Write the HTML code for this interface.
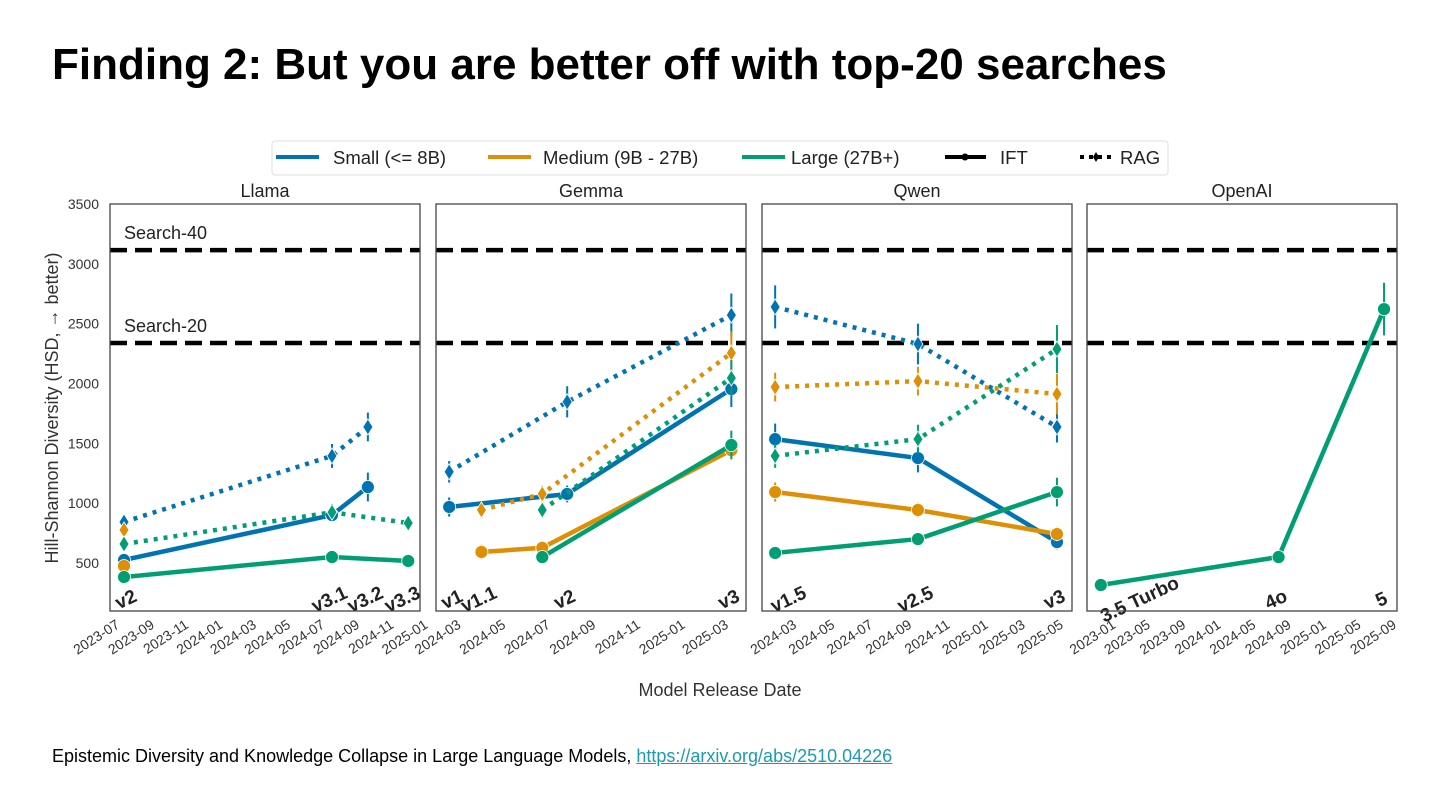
<!DOCTYPE html>
<html><head><meta charset="utf-8">
<style>
html,body{margin:0;padding:0;background:#fff;}
body{width:1440px;height:810px;overflow:hidden;position:relative;font-family:"Liberation Sans",sans-serif;}
#title{position:absolute;left:52px;top:40px;font-size:44px;font-weight:bold;color:#000;margin:0;}
#footer{position:absolute;left:52px;top:746px;font-size:18px;color:#000;}
#footer a{color:#1a9bb0;}
svg{position:absolute;left:0;top:0;}
</style></head><body>
<h1 id="title">Finding 2: But you are better off with top-20 searches</h1>
<div id="footer">Epistemic Diversity and Knowledge Collapse in Large Language Models, <a href="#">https://arxiv.org/abs/2510.04226</a></div>
<svg id="chart" width="1440" height="810"></svg>
<script>
const panelNames=["Llama","Gemma","Qwen","OpenAI"];
const panelStart=["2023-06-23","2024-02-03","2024-01-14","2022-10-11"];
const panelEnd=["2024-12-27","2025-04-01","2025-05-23","2025-09-21"];
const panelTickStep=[2,2,2,4];
const yTicks=[500,1000,1500,2000,2500,3000,3500];
const searchLabels=["Search-40","Search-20"];
const searchValues=[3115,2338];
const sizeNames=["Small (<= 8B)","Medium (9B - 27B)","Large (27B+)"];
const sizeColors=["#0173b2","#de8f05","#029e73"];
const seriesPanel=[0,0,0,0,0,0, 1,1,1,1,1,1, 2,2,2,2,2,2, 3];
const seriesSize=[0,0,1,1,2,2, 0,0,1,1,2,2, 0,0,1,1,2,2, 2];
const seriesType=["IFT","RAG","IFT","RAG","IFT","RAG","IFT","RAG","IFT","RAG","IFT","RAG","IFT","RAG","IFT","RAG","IFT","RAG","IFT"];
const seriesDates=[
 ["2023-07-18","2024-07-23","2024-09-25"],["2023-07-18","2024-07-23","2024-09-25"],
 ["2023-07-18"],["2023-07-18"],
 ["2023-07-18","2024-07-23","2024-12-06"],["2023-07-18","2024-07-23","2024-12-06"],
 ["2024-02-21","2024-07-31","2025-03-12"],["2024-02-21","2024-07-31","2025-03-12"],
 ["2024-04-05","2024-06-27","2025-03-12"],["2024-04-05","2024-06-27","2025-03-12"],
 ["2024-06-27","2025-03-12"],["2024-06-27","2025-03-12"],
 ["2024-02-04","2024-09-19","2025-04-29"],["2024-02-04","2024-09-19","2025-04-29"],
 ["2024-02-04","2024-09-19","2025-04-29"],["2024-02-04","2024-09-19","2025-04-29"],
 ["2024-02-04","2024-09-19","2025-04-29"],["2024-02-04","2024-09-19","2025-04-29"],
 ["2022-11-28","2024-08-06","2025-08-07"]];
const seriesValues=[
 [525,901,1135],[843,1395,1637],
 [475],[776],
 [383,550,517],[659,924,834],
 [968,1077,1954],[1262,1847,2572],
 [592,627,1443],[943,1077,2255],
 [550,1486],[943,2046],
 [1535,1377,675],[2640,2330,1637],
 [1093,943,742],[1970,2020,1912],
 [584,700,1093],[1395,1535,2288],
 [316,550,2622]];
const seriesErrors=[
 [50,40,120],[50,100,120],
 [40],[40],
 [30,40,40],[50,70,40],
 [80,70,150],[90,130,180],
 [60,50,60],[70,70,180],
 [40,120],[60,150],
 [130,120,60],[180,170,130],
 [80,60,60],[120,120,170],
 [30,40,120],[100,120,200],
 [30,30,220]];
const modelPanel=[0,0,0,0,1,1,1,1,2,2,2,3,3,3];
const modelLabels=["v2","v3.1","v3.2","v3.3","v1","v1.1","v2","v3","v1.5","v2.5","v3","3.5 Turbo","4o","5"];
const modelDates=["2023-07-18","2024-07-23","2024-09-25","2024-12-06","2024-02-21","2024-04-05","2024-07-31","2025-03-12","2024-02-04","2024-09-19","2025-04-29","2022-11-28","2024-08-06","2025-08-07"];

const svg=document.getElementById('chart');
const NS="http://www.w3.org/2000/svg";
const PL=[110,436,762,1087], PW=310, PT=204, PB=611;
function el(tag,attrs,parent){const e=document.createElementNS(NS,tag);for(const k in attrs)e.setAttribute(k,attrs[k]);(parent||svg).appendChild(e);return e;}
function t(s){return Date.parse(s+"T00:00:00Z");}
function xScale(p,d){const a=t(panelStart[p]),b=t(panelEnd[p]);return PL[p]+(t(d)-a)/(b-a)*PW;}
function yScale(v){return 563-(v-500)*(359/3000);}

const lg=el('g',{});


el('rect',{x:272,y:141,width:896,height:34,rx:3,fill:'#fff',stroke:'#ddd'},lg);
const legX=[276,488,742];
const legTX=[333,543,791];
for(let i=0;i<3;i++){
 const g=el('g',{},lg);
 
 
 el('line',{x1:legX[i],y1:157,x2:legX[i]+43,y2:157,stroke:sizeColors[i],'stroke-width':4},g);
 const tx=el('text',{x:legTX[i],y:164,'font-size':18.5,fill:'#222'},g);tx.textContent=sizeNames[i];
}
{const g=el('g',{},lg);
 
 
 el('line',{x1:945,y1:157,x2:986,y2:157,stroke:'#000','stroke-width':4},g);
 el('circle',{cx:965,cy:157,r:3.5,fill:'#000'},g);
 const tx=el('text',{x:1000,y:164,'font-size':18.5,fill:'#222'},g);tx.textContent="IFT";
 const g2=el('g',{},lg);
 
 
 el('line',{x1:1080,y1:157,x2:1112,y2:157,stroke:'#000','stroke-width':4,'stroke-dasharray':'4 5'},g2);
 el('path',{d:'M1096,152 L1099,157 L1096,162 L1093,157Z',fill:'#000'},g2);
 const tx2=el('text',{x:1120,y:164,'font-size':18.5,fill:'#222'},g2);tx2.textContent="RAG";}

const ya=el('g',{});


yTicks.forEach(v=>{const tx=el('text',{x:99,y:yScale(v)+5,'font-size':14,fill:'#333','text-anchor':'end'},ya);tx.textContent=v;});
const yt=el('text',{x:0,y:0,'font-size':18,fill:'#333','text-anchor':'middle',transform:'translate(58,408) rotate(-90)'});


yt.textContent="Hill-Shannon Diversity (HSD, \u2192 better)";
const xt=el('text',{x:720,y:696,'font-size':18,fill:'#333','text-anchor':'middle'});


xt.textContent="Model Release Date";

for(let p=0;p<4;p++){
 const g=el('g',{});
 
 
 const cp=el('clipPath',{id:'clip'+p},g);
 el('rect',{x:PL[p],y:PT,width:PW,height:PB-PT},cp);
 const ti=el('text',{x:PL[p]+PW/2,y:197,'font-size':18,fill:'#222','text-anchor':'middle'},g);
 
 
 ti.textContent=panelNames[p];
 const s=new Date(t(panelStart[p])), e=t(panelEnd[p]);
 let y=s.getUTCFullYear(), m=s.getUTCMonth()+2;
 if(m>12){m-=12;y++;}
 const step=panelTickStep[p];
 if(p<3){ if(m%2===0){m++; if(m>12){m=1;y++;}} }
 else { while((m-1)%4!==0){m++; if(m>12){m=1;y++;}} }
 while(true){
  const ds=y+"-"+String(m).padStart(2,'0')+"-01";
  if(t(ds)>e+86400000*5) break;
  const x=xScale(p,ds);
  const tk=el('text',{x:0,y:0,'font-size':14,fill:'#333','text-anchor':'end',transform:`translate(${x+6},${PB+16}) rotate(-33)`},g);
  
  
  tk.textContent=y+"-"+String(m).padStart(2,'0');
  m+=step; if(m>12){m-=12;y++;}
 }
 for(let k=0;k<2;k++){
  const ln=el('line',{x1:PL[p],x2:PL[p]+PW,y1:yScale(searchValues[k]),y2:yScale(searchValues[k]),stroke:'#000','stroke-width':4.5,'stroke-dasharray':'17 8'},g);
  
  
  if(p===0){const lt=el('text',{x:124,y:yScale(searchValues[k])-11,'font-size':18,fill:'#222'},g);lt.textContent=searchLabels[k];}
 }
 const sg=el('g',{'clip-path':`url(#clip${p})`},g);
 for(let i=0;i<seriesPanel.length;i++){
  if(seriesPanel[i]!==p) continue;
  const c=sizeColors[seriesSize[i]], rag=seriesType[i]==="RAG";
  const ser=el('g',{},sg);
  
  
  const pts=seriesDates[i].map((d,j)=>[xScale(p,d),yScale(seriesValues[i][j])]);
  if(pts.length>1){
   const attrs={points:pts.map(q=>q.join(',')).join(' '),fill:'none',stroke:c,'stroke-width':4.5,'stroke-linejoin':'round'};
   if(rag) attrs['stroke-dasharray']='4 6';
   el('polyline',attrs,ser);
  }
  pts.forEach((q,j)=>{
   const er=seriesErrors[i][j];
   el('line',{x1:q[0],x2:q[0],y1:yScale(seriesValues[i][j]-er),y2:yScale(seriesValues[i][j]+er),stroke:c,'stroke-width':2},ser);
   if(rag){
    const mk=el('path',{d:`M${q[0]},${q[1]-8} L${q[0]+5},${q[1]} L${q[0]},${q[1]+8} L${q[0]-5},${q[1]}Z`,fill:c,stroke:'#fff','stroke-width':0.8},ser);
    
    
   } else {
    const mk=el('circle',{cx:q[0],cy:q[1],r:6.5,fill:c,stroke:'#fff','stroke-width':0.8},ser);
    
    
   }
  });
 }
 for(let i=0;i<modelLabels.length;i++){
  if(modelPanel[i]!==p) continue;
  const w=modelLabels[i].length*10.5;
  let x=xScale(p,modelDates[i]);
  x=Math.max(x,PL[p]+w/2+8); x=Math.min(x,PL[p]+PW-w/2+6);
  const lb=el('text',{x:0,y:0,'font-size':19,'font-weight':'bold',fill:'#222','text-anchor':'middle',transform:`translate(${x},${PB-6}) rotate(-25)`},g);
  
  
  lb.textContent=modelLabels[i];
 }
 el('rect',{x:PL[p],y:PT,width:PW,height:PB-PT,fill:'none',stroke:'#444','stroke-width':1.3},g);
}
</script>
</body></html>
